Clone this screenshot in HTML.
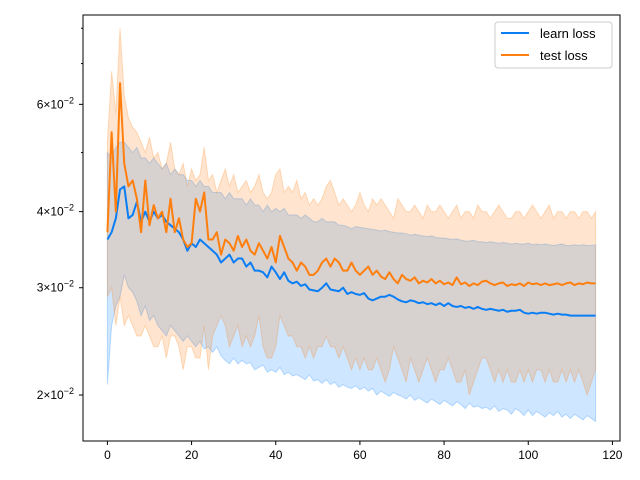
<!DOCTYPE html>
<html><head><meta charset="utf-8"><style>
html,body{margin:0;padding:0;background:#fff;}
svg{display:block;font-family:"Liberation Sans","DejaVu Sans",sans-serif;}
</style></head><body>
<svg id="chart" width="640" height="480" viewBox="0 0 640 480" xmlns="http://www.w3.org/2000/svg">
<rect x="0" y="0" width="640" height="480" fill="#fff"/>
<g id="bands"></g><g id="lines"></g>
<rect x="83" y="15" width="537" height="426" fill="none" stroke="#000" stroke-width="1"/>
<g id="xaxis"></g><g id="yaxis"></g>
<g>
<rect x="495" y="22" width="117" height="46" rx="3" fill="#fff" fill-opacity="0.8" stroke="#ccc"/>
<line x1="501" y1="33" x2="529" y2="33" stroke="#0a7ef5" stroke-width="2"/>
<text x="540" y="38" font-size="13">learn loss</text>
<line x1="501" y1="55" x2="529" y2="55" stroke="#ff7f0e" stroke-width="2"/>
<text x="540" y="60" font-size="13">test loss</text>
</g>
</svg>
<script>
const learnMean=[.0360,.0370,.0390,.0435,.0440,.0390,.0395,.0415,.0385,.0400,.0385,.0400,.0390,.0395,.0385,.0380,.0375,.0370,.0360,.0345,.0355,.0350,.0360,.0355,.0350,.0345,.0340,.0330,.0335,.0340,.0330,.0335,.0335,.0325,.0330,.0320,.0320,.0318,.0312,.0325,.0318,.0310,.0318,.0308,.0305,.0307,.0302,.0304,.0298,.0297,.0296,.0300,.0305,.0298,.0297,.0296,.0300,.0293,.0295,.0293,.0292,.0294,.0288,.0286,.0288,.0290,.0290,.0292,.0290,.0287,.0285,.0284,.0286,.0285,.0283,.0284,.0282,.0283,.0281,.0283,.0280,.0283,.0280,.0279,.0280,.0278,.0279,.0277,.0279,.0277,.0276,.0277,.0276,.0275,.0276,.0274,.0275,.0275,.0276,.0273,.0272,.0273,.0272,.0273,.0273,.0272,.0271,.0272,.0271,.0271,.0270,.0270,.0270,.0270,.0270,.0270,.0270];
const testMean=[.0370,.0540,.0400,.0650,.0480,.0440,.0450,.0420,.0370,.0450,.0380,.0410,.0390,.0400,.0370,.0420,.0370,.0390,.0360,.0350,.0355,.0420,.0400,.0430,.0360,.0360,.0370,.0340,.0360,.0355,.0345,.0365,.0350,.0360,.0345,.0340,.0355,.0345,.0335,.0350,.0330,.0365,.0350,.0335,.0330,.0320,.0330,.0325,.0315,.0315,.0320,.0330,.0335,.0325,.0335,.0330,.0320,.0320,.0330,.0320,.0315,.0320,.0325,.0315,.0320,.0313,.0310,.0318,.0310,.0305,.0315,.0310,.0308,.0312,.0305,.0308,.0306,.0310,.0305,.0308,.0304,.0306,.0303,.0312,.0304,.0306,.0302,.0305,.0303,.0307,.0308,.0305,.0303,.0305,.0306,.0302,.0304,.0303,.0305,.0302,.0306,.0304,.0305,.0303,.0305,.0303,.0304,.0305,.0303,.0305,.0306,.0303,.0305,.0304,.0306,.0305,.0305];
const learnUpper=[.050,.049,.051,.052,.052,.051,.050,.051,.049,.049,.048,.049,.048,.047,.048,.046,.047,.046,.046,.045,.045,.044,.045,.044,.044,.043,.043,.043,.042,.043,.042,.042,.042,.041,.042,.041,.041,.040,.041,.040,.0405,.040,.0405,.0395,.0395,.0395,.039,.0395,.039,.0385,.0385,.039,.0385,.0385,.0385,.038,.038,.0378,.0375,.0378,.0377,.0376,.0375,.0374,.0373,.0372,.0373,.0371,.0370,.0369,.0369,.0368,.0366,.0367,.0366,.0365,.0364,.0365,.0363,.0362,.0362,.0361,.0360,.0361,.0359,.0358,.0358,.0359,.0357,.0357,.0356,.0357,.0356,.0355,.0356,.0355,.0354,.0355,.0354,.0354,.0355,.0353,.0354,.0353,.0354,.0353,.0352,.0353,.0354,.0352,.0352,.0353,.0352,.0353,.0352,.0352,.0353];
const learnLower=[.0208,.0260,.0280,.0290,.0315,.0300,.0295,.0285,.0270,.0280,.0265,.0270,.0260,.0255,.0250,.0260,.0255,.0250,.0245,.0250,.0245,.0240,.0245,.0238,.0240,.0235,.0240,.0232,.0228,.0225,.0230,.0225,.0228,.0225,.0226,.0220,.0222,.0224,.0218,.0220,.0218,.0222,.0216,.0218,.0215,.0216,.0214,.0212,.0216,.0211,.0212,.0209,.0212,.0208,.0210,.0206,.0208,.0206,.0205,.0207,.0204,.0206,.0203,.0205,.0200,.0203,.0201,.0199,.0202,.0200,.0199,.0197,.0200,.0196,.0198,.0196,.0194,.0197,.0195,.0193,.0196,.0194,.0192,.0195,.0193,.0190,.0194,.0191,.0192,.0190,.0191,.0189,.0192,.0188,.0190,.0189,.0186,.0190,.0188,.0185,.0189,.0185,.0188,.0186,.0184,.0187,.0185,.0188,.0184,.0186,.0183,.0186,.0184,.0182,.0185,.0183,.0181];
const testUpper=[.052,.068,.058,.080,.062,.057,.055,.054,.052,.050,.053,.049,.050,.047,.048,.052,.047,.046,.048,.044,.047,.045,.046,.051,.045,.046,.043,.045,.047,.044,.046,.043,.044,.045,.043,.044,.046,.043,.042,.043,.046,.047,.043,.044,.043,.045,.042,.043,.041,.042,.041,.042,.044,.045,.043,.041,.042,.041,.040,.041,.043,.041,.040,.042,.041,.042,.041,.040,.039,.042,.041,.040,.040,.041,.040,.039,.041,.040,.040,.041,.040,.039,.040,.041,.039,.040,.040,.039,.041,.040,.040,.039,.040,.041,.040,.039,.039,.040,.040,.039,.040,.041,.040,.039,.040,.041,.039,.040,.040,.039,.040,.040,.039,.040,.040,.039,.040];
const testLower=[.029,.030,.026,.029,.026,.027,.026,.025,.025,.026,.025,.024,.024,.025,.023,.025,.025,.024,.022,.024,.024,.023,.023,.026,.022,.025,.026,.027,.026,.024,.025,.026,.024,.025,.024,.025,.027,.024,.023,.023,.024,.027,.026,.025,.025,.024,.024,.023,.024,.023,.024,.024,.025,.024,.024,.023,.024,.023,.022,.023,.022,.023,.022,.022,.023,.022,.021,.022,.024,.023,.022,.021,.023,.022,.021,.022,.023,.022,.021,.022,.022,.023,.022,.021,.021,.022,.020,.021,.022,.023,.023,.022,.021,.022,.021,.022,.021,.021,.022,.021,.022,.021,.022,.022,.021,.022,.021,.021,.022,.021,.022,.021,.022,.021,.020,.021,.022];
const xTicks=[0,20,40,60,80,100,120];
const yMajorTicks=[0.02,0.03,0.04,0.06];
const yMajorLabels=["2","3","4","6"];
const yMinorTicks=[0.05,0.07,0.08];

const NS="http://www.w3.org/2000/svg";
const L=83,R=620,T=15,B=441;
const xMin=-5.8,xMax=121.8;
const yMin=Math.log10(0.01681),yMax=Math.log10(0.0841);
function xs(v){return L+(v-xMin)/(xMax-xMin)*(R-L);}
function ys(v){return B-(Math.log10(v)-yMin)/(yMax-yMin)*(B-T);}
function mk(tag,attrs,parent){const e=document.createElementNS(NS,tag);for(const k in attrs)e.setAttribute(k,attrs[k]);parent.appendChild(e);return e;}
const bands=document.getElementById('bands'),lines=document.getElementById('lines');
function band(up,lo,fill,stroke,name){
  let d="M";up.forEach((v,i)=>{d+=xs(i).toFixed(2)+","+ys(v).toFixed(2)+" L";});
  for(let i=lo.length-1;i>=0;i--){d+=xs(i).toFixed(2)+","+ys(lo[i]).toFixed(2)+(i>0?" L":" Z");}
  const p=mk('path',{d:d,fill:fill,stroke:stroke,'stroke-width':1},bands);
  
  
}
band(learnUpper,learnLower,'rgba(10,132,255,0.2)','rgba(10,132,255,0.25)','learn-loss-band');
band(testUpper,testLower,'rgba(255,127,14,0.2)','rgba(255,127,14,0.25)','test-loss-band');
function line(arr,color,name){
  const pts=arr.map((v,i)=>xs(i).toFixed(2)+","+ys(v).toFixed(2)).join(" ");
  const p=mk('polyline',{points:pts,fill:'none',stroke:color,'stroke-width':2,'stroke-linejoin':'round'},lines);
  
  
}
line(learnMean,'#0a7ef5','learn-loss-line');
line(testMean,'#ff7f0e','test-loss-line');
const xa=document.getElementById('xaxis');
xTicks.forEach(t=>{
  const x=xs(t);
  const tk=mk('line',{x1:x,y1:B,x2:x,y2:B+4,stroke:'#000'},xa);
  
  
  const tx=mk('text',{x:x,y:B+18,'font-size':12,'text-anchor':'middle'},xa);
  tx.textContent=t;
  
  
});
const ya=document.getElementById('yaxis');
yMajorTicks.forEach((t,i)=>{
  const y=ys(t);
  const tk=mk('line',{x1:L-4,y1:y,x2:L,y2:y,stroke:'#000'},ya);
  
  
  const tx=mk('text',{x:L-9,y:y+4,'font-size':12,'text-anchor':'end'},ya);
  
  
  tx.appendChild(document.createTextNode(yMajorLabels[i]+"\u00d710"));
  const s=document.createElementNS(NS,'tspan');s.setAttribute('dy','-5');s.setAttribute('font-size','9');s.textContent="\u22122";tx.appendChild(s);
});
yMinorTicks.forEach(t=>{
  const y=ys(t);
  const tk=mk('line',{x1:L-2,y1:y,x2:L,y2:y,stroke:'#000'},ya);
  
  
});
</script>
</body></html>
